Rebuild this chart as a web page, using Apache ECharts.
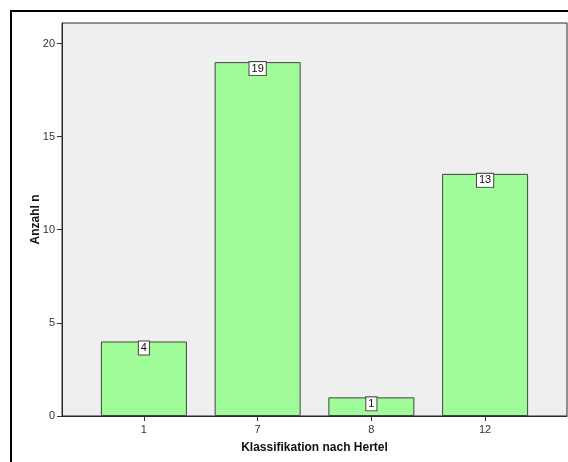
<!DOCTYPE html>
<html>
<head>
<meta charset="utf-8">
<script src="https://cdn.jsdelivr.net/npm/echarts@6/dist/echarts.min.js"></script>
<style>
  html, body { margin: 0; padding: 0; background: #ffffff; }
  #chart { width: 568px; height: 462px; }
</style>
</head>
<body>
<div id="chart"></div>
<script>
// Hertel classification counts
const categories = ['1', '7', '8', '12'];
const counts = [4, 19, 1, 13];
const yTicks = [0, 5, 10, 15, 20];

const positions = categories.map((_, i) => i);
const barData = counts.map((v, i) => [positions[i], v]);

const chart = echarts.init(document.getElementById('chart'));
const font = 'Liberation Sans, Arial, sans-serif';

chart.setOption({
  animation: false,
  backgroundColor: '#ffffff',
  graphic: [{
    type: 'rect',
    shape: { x: 11, y: 11, width: 600, height: 500 },
    style: { fill: 'none', stroke: '#000000', lineWidth: 2 },
    z: 100
  }],
  grid: {
    left: 62, right: 1, top: 23, bottom: 46,
    show: true,
    backgroundColor: '#efefef',
    borderColor: '#2a2a2a',
    borderWidth: 1
  },
  xAxis: {
    type: 'value',
    min: -0.72,
    max: 3.72,
    splitLine: { show: false },
    axisLine: { show: true, onZero: false, lineStyle: { color: '#2a2a2a', width: 1 } },
    axisTick: { show: true, length: 5, customValues: positions, lineStyle: { color: '#333' } },
    axisLabel: {
      customValues: positions,
      formatter: v => categories[Math.round(v)] ?? '',
      color: '#333', fontSize: 11, fontFamily: font, margin: 8
    },
    name: 'Klassifikation nach Hertel',
    nameLocation: 'middle',
    nameGap: 26,
    nameMoveOverlap: false,
    nameTextStyle: { fontWeight: 'bold', fontSize: 12, color: '#111', fontFamily: font }
  },
  yAxis: {
    type: 'value',
    min: 0,
    max: 21.1,
    splitLine: { show: false },
    axisLine: { show: true, onZero: false, lineStyle: { color: '#2a2a2a', width: 1 } },
    axisTick: { show: true, length: 5, customValues: yTicks, lineStyle: { color: '#333' } },
    axisLabel: {
      customValues: yTicks,
      color: '#333', fontSize: 11, fontFamily: font, margin: 7
    },
    name: 'Anzahl n',
    nameLocation: 'middle',
    nameGap: 20,
    nameMoveOverlap: false,
    nameTextStyle: { fontWeight: 'bold', fontSize: 12, color: '#111', fontFamily: font }
  },
  series: [{
    type: 'bar',
    data: barData,
    barWidth: 86,
    itemStyle: { color: '#a0fc98', borderColor: '#444444', borderWidth: 1 },
    label: {
      show: true,
      position: 'insideTop',
      distance: 0,
      formatter: p => String(p.value[1]),
      color: '#111',
      fontSize: 11,
      fontFamily: font,
      backgroundColor: '#ffffff',
      borderColor: '#444444',
      borderWidth: 1,
      padding: [1, 2, 1, 2]
    }
  }]
});
</script>
</body>
</html>
